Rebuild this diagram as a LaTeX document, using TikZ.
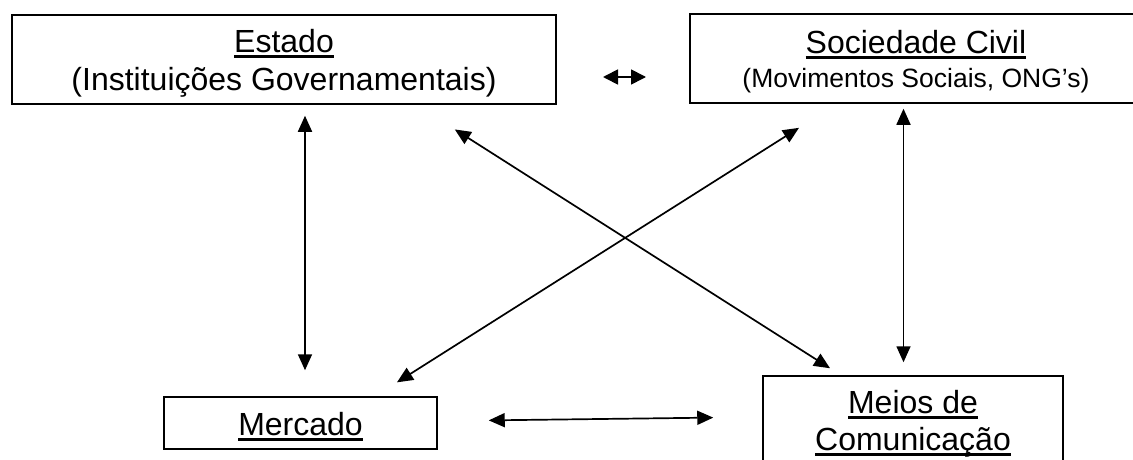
\documentclass[tikz,border=0pt]{standalone}
\usepackage{fontspec}
\setmainfont{Liberation Sans}
\usepackage{tikz}
\usetikzlibrary{calc,arrows.meta}
\newcommand{\sublinhado}[1]{\setbox0\hbox{#1}\rlap{\copy0}\rule[-5.5pt]{\wd0}{3pt}}
\tikzset{
  caixa/.style={draw=black, line width=1.5pt, rectangle, inner sep=0pt},
  rot/.style={anchor=base, inner sep=0pt, font=\fontsize{32}{37}\selectfont},
  rotp/.style={rot, font=\fontsize{26.5}{30}\selectfont},
  seta/.style={draw=black, line width=1.7pt, >={Triangle[length=16pt,width=14pt]}, <->}
}

\begin{document}
\begin{tikzpicture}[x=1pt,y=1pt]
  \useasboundingbox (0,0) rectangle (1133,459);
  \clip (0,0) rectangle (1133,459);

  \node[caixa, minimum width=544pt, minimum height=89pt] (estado) at (284,399.5) {};
  \node[caixa, minimum width=452pt, minimum height=89pt] (sociedade) at (916,400.5) {};
  \node[caixa, minimum width=273pt, minimum height=52pt] (mercado) at (300.5,36) {};
  \node[caixa, minimum width=300pt, minimum height=114pt] (meios) at (913,26) {};

  \node[rot] (estadoA) at (284,406) {\sublinhado{Estado}};
  \node[rot] (estadoB) at (284,369) {(Instituições Governamentais)};
  \node[rot] (sociedadeA) at (916,405) {\sublinhado{Sociedade Civil}};
  \node[rotp] (sociedadeB) at (916,371) {(Movimentos Sociais, ONG’s)};
  \node[rot] (mercadoA) at (300.5,24) {\sublinhado{Mercado}};
  \node[rot] (meiosA) at (913,46) {\sublinhado{Meios de}};
  \node[rot] (meiosB) at (913,9) {\sublinhado{Comunicação}};

  \coordinate (colE) at (305,0);
  \coordinate (colD) at (903.5,0);
  \coordinate (dupE) at (603,382);
  \coordinate (dupD) at (646,382);

  \draw[seta, >={Triangle[length=15pt,width=15pt]}] (dupE) -- (dupD);
  \draw[seta, shorten <=11pt, shorten >=26pt] (estado.south -| colE) -- (mercado.north -| colE);
  \draw[seta, shorten <=5pt, shorten >=13pt] (sociedade.south -| colD) -- (meios.north -| colD);
  \draw[seta, shorten <=51pt, shorten >=49pt] ([yshift=2pt]mercado.east) -- ([yshift=16pt]meios.west);
  \draw[seta, shorten <=46pt, shorten >=13pt] ([xshift=132pt]estado.south) -- ([xshift=-72pt]meios.north);
  \draw[seta, shorten <=45pt, shorten >=26pt] ([xshift=-79pt]sociedade.south) -- ([xshift=74.5pt]mercado.north);
\end{tikzpicture}
\end{document}
